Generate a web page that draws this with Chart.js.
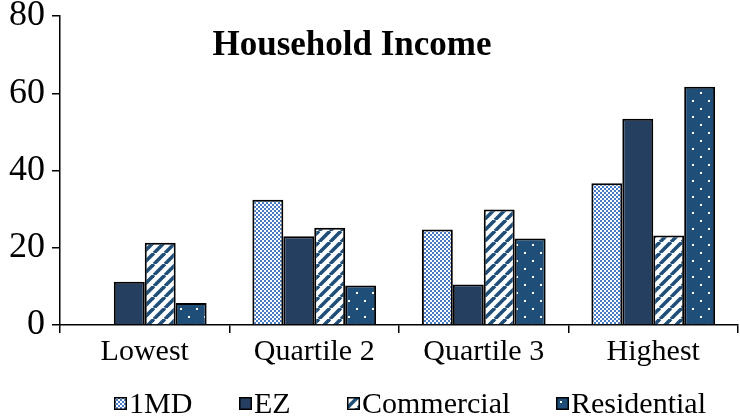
<!DOCTYPE html>
<html>
<head>
<meta charset="utf-8">
<script src="https://cdn.jsdelivr.net/npm/chart.js@4/dist/chart.umd.min.js"></script>
<style>
    html, body { margin: 0; padding: 0; background: #ffffff; }
    #wrap { position: relative; width: 740px; height: 420px; overflow: hidden; }
    #legend {
        position: absolute; left: 0; top: 386px; width: 740px; height: 34px;
        font-family: "Liberation Serif", "Times New Roman", serif;
        font-size: 30px; color: #000;
    }
    #legend .item {
        position: absolute; top: 0; display: flex; align-items: center; gap: 2px;
        line-height: 34px;
    }
    #legend canvas { display: block; }
</style>
</head>
<body>
<div id="wrap">
    <canvas id="chart" width="740" height="420"></canvas>
    <div id="legend"></div>
</div>
<script>
// Data
const categories = ["Lowest", "Quartile 2", "Quartile 3", "Highest"];
const seriesNames = ["1MD", "EZ", "Commercial", "Residential"];
const oneMD = [null, 32.4, 24.7, 36.7];
const ez = [11.2, 23.0, 10.5, 53.4];
const commercial = [21.3, 25.2, 29.9, 23.2];
const residential = [5.7, 10.2, 22.4, 61.7];
const yTicks = [0, 20, 40, 60, 80];

// legend item left edges (layout, not data)
const legendLeft = [114, 239, 347, 556];

const serif = "'Liberation Serif', 'Times New Roman', serif";
const navy = "#243F60";
const blue = "#1F4E79";
const lightBlue = "#4A7CC6";

// Fill patterns
const makeTile = (size, draw) => {
    const c = document.createElement("canvas");
    c.width = size;
    c.height = size;
    draw(c.getContext("2d"), size);
    return c;
};

const checkTile = makeTile(8, (g, s) => {
    g.fillStyle = "#ffffff";
    g.fillRect(0, 0, s, s);
    g.fillStyle = lightBlue;
    for (let y = 0; y < s; y += 2) {
        for (let x = 0; x < s; x += 2) {
            if (((x + y) / 2) % 2 === 0) g.fillRect(x, y, 2, 2);
        }
    }
});

const stripeTile = makeTile(11, (g, s) => {
    g.fillStyle = "#ffffff";
    g.fillRect(0, 0, s, s);
    g.strokeStyle = blue;
    g.lineWidth = 3.6;
    for (let k = -1; k <= 1; k++) {
        g.beginPath();
        g.moveTo(k * s, s);
        g.lineTo(k * s + s, 0);
        g.stroke();
    }
});

const dotTile = makeTile(16, (g, s) => {
    g.fillStyle = blue;
    g.fillRect(0, 0, s, s);
    g.fillStyle = "#ffffff";
    g.fillRect(4, 4, 2, 2);
    g.fillRect(12, 12, 2, 2);
});

const ctx = document.getElementById("chart");
const g2d = ctx.getContext("2d");
const fills = [
    g2d.createPattern(checkTile, "repeat"),
    navy,
    g2d.createPattern(stripeTile, "repeat"),
    g2d.createPattern(dotTile, "repeat"),
];
const seriesData = [oneMD, ez, commercial, residential];

// Title drawn onto the canvas, offset left of the plot centre like the original
const titlePlugin = {
    id: "titleText",
    afterDraw(chart) {
        const c = chart.ctx;
        c.save();
        c.font = "bold 35px " + serif;
        c.fillStyle = "#000";
        c.textAlign = "center";
        c.textBaseline = "alphabetic";
        c.fillText("Household Income", 352, 55);
        c.restore();
    },
};

new Chart(ctx, {
    type: "bar",
    data: {
        labels: categories,
        datasets: seriesNames.map((name, i) => ({
            label: name,
            data: seriesData[i],
            backgroundColor: fills[i],
            borderColor: "#000000",
            borderWidth: 2,
            borderSkipped: "bottom",
            categoryPercentage: 0.73,
            barPercentage: 1.0,
        })),
    },
    options: {
        responsive: false,
        animation: false,
        layout: {
            padding: { top: 16, right: 2, bottom: 50, left: 0 },
        },
        scales: {
            y: {
                min: 0,
                max: 80,
                afterFit: (scale) => {
                    scale.width = 60;
                    scale.paddingTop = 0;
                    scale.paddingBottom = 0;
                },
                afterBuildTicks: (scale) => {
                    scale.ticks = yTicks.map((v) => ({ value: v }));
                },
                border: { display: true, color: "#000", width: 1.5 },
                grid: {
                    drawOnChartArea: false,
                    drawTicks: true,
                    tickLength: 8,
                    tickColor: "#000",
                    lineWidth: 1.5,
                },
                ticks: {
                    color: "#000",
                    padding: 7,
                    font: { family: serif, size: 36 },
                },
            },
            x: {
                afterFit: (scale) => { scale.height = 45; },
                border: { display: true, color: "#000", width: 1.5 },
                grid: {
                    offset: true,
                    drawOnChartArea: false,
                    drawTicks: true,
                    tickLength: 8,
                    tickColor: "#000",
                    lineWidth: 1.5,
                },
                ticks: {
                    color: "#000",
                    padding: 1,
                    font: { family: serif, size: 30 },
                },
            },
        },
        plugins: {
            legend: { display: false },
            tooltip: { enabled: false },
        },
    },
    plugins: [titlePlugin],
});

// Legend with small pattern swatches
const legendEl = document.getElementById("legend");
seriesNames.forEach((name, i) => {
    const item = document.createElement("div");
    item.className = "item";
    item.style.left = legendLeft[i] + "px";
    const sw = document.createElement("canvas");
    sw.width = 13;
    sw.height = 13;
    const sg = sw.getContext("2d");
    sg.fillStyle = [sg.createPattern(checkTile, "repeat"), navy,
        sg.createPattern(stripeTile, "repeat"), sg.createPattern(dotTile, "repeat")][i];
    sg.fillRect(0, 0, 13, 13);
    sg.strokeStyle = "#000";
    sg.lineWidth = 1.5;
    sg.strokeRect(0.75, 0.75, 11.5, 11.5);
    const label = document.createElement("span");
    label.textContent = name;
    item.appendChild(sw);
    item.appendChild(label);
    legendEl.appendChild(item);
});
</script>
</body>
</html>
